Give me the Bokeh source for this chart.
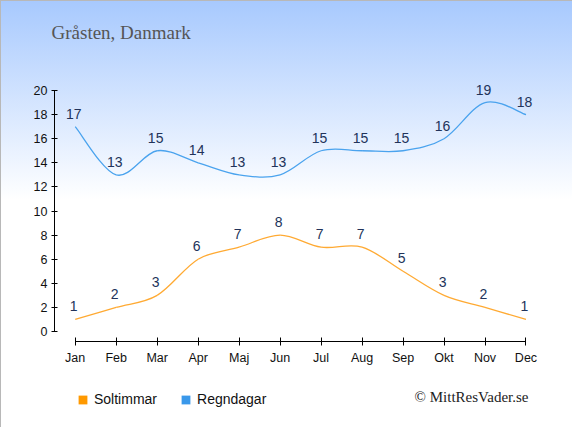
from bokeh.plotting import figure
from bokeh.models import Range1d, FixedTicker, Label, Legend, LegendItem, ColumnDataSource
from bokeh.core.properties import value
from bokeh.embed import file_html
from bokeh.resources import INLINE

months = ["Jan", "Feb", "Mar", "Apr", "Maj", "Jun", "Jul", "Aug", "Sep", "Okt", "Nov", "Dec"]
soltimmar = [1, 2, 3, 6, 7, 8, 7, 7, 5, 3, 2, 1]
regndagar = [17, 13, 15, 14, 13, 13, 15, 15, 15, 16, 19, 18]
y_ticks = list(range(0, 21, 2))
title_text = "Gråsten, Danmark"
credit_text = "© MittResVader.se"
series_names = ["Soltimmar", "Regndagar"]

ORANGE_LINE = "#ffaa33"
BLUE_LINE = "#4aa3ee"
ORANGE_BOX = "#ff9900"
BLUE_BOX = "#3a98ea"
LABEL_COLOR = "#22335a"

W, H = 572, 427
PX_X = 40.98      # pixels per month
PX_Y = 12.05      # pixels per unit
JAN_PX = 74.7     # canvas x of first month
ZERO_PX = 331.0   # canvas y (from top) of value 0
YAXIS_PX = 54.0   # canvas x of the y axis line
XAXIS_PX = 341.0  # canvas y of the x axis line


def bezier_source(vals):
    n = len(vals)
    xs = list(range(n))
    d = dict(x0=[], y0=[], x1=[], y1=[], cx0=[], cy0=[], cx1=[], cy1=[])
    for i in range(n - 1):
        pm = max(i - 1, 0)
        pp = min(i + 2, n - 1)
        d["x0"].append(xs[i]); d["y0"].append(vals[i])
        d["x1"].append(xs[i + 1]); d["y1"].append(vals[i + 1])
        d["cx0"].append(xs[i] + (xs[i + 1] - xs[pm]) / 6)
        d["cy0"].append(vals[i] + (vals[i + 1] - vals[pm]) / 6)
        d["cx1"].append(xs[i + 1] - (xs[pp] - xs[i]) / 6)
        d["cy1"].append(vals[i + 1] - (vals[pp] - vals[i]) / 6)
    return ColumnDataSource(d)


x0 = -JAN_PX / PX_X
y0 = -(H - ZERO_PX) / PX_Y
p = figure(width=W, height=H, output_backend="svg", toolbar_location=None,
           x_range=Range1d(x0, x0 + W / PX_X), y_range=Range1d(y0, y0 + H / PX_Y),
           min_border=0, min_border_left=0, min_border_right=0,
           min_border_top=0, min_border_bottom=0,
           border_fill_color=None, background_fill_color=None, outline_line_color=None,
           styles={"background": "linear-gradient(to bottom, #a7c9fe 0px, #ffffff 200px)",
                   "box-shadow": "inset 1px 1px 0 0 #b8b8b8"})
p.grid.visible = False

# axes (drawn at fixed places inside the full-canvas frame)
p.yaxis.fixed_location = (YAXIS_PX - JAN_PX) / PX_X
p.xaxis.fixed_location = -(XAXIS_PX - ZERO_PX) / PX_Y
p.yaxis.ticker = FixedTicker(ticks=y_ticks)
p.yaxis.bounds = (0, 20)
p.yaxis.major_tick_in = 3
p.yaxis.major_tick_out = 3
p.yaxis.minor_tick_line_color = None
p.yaxis.major_label_standoff = 4
p.xaxis.ticker = FixedTicker(ticks=list(range(len(months))))
p.xaxis.bounds = (0, len(months) - 1)
p.xaxis.major_label_overrides = {i: m for i, m in enumerate(months)}
p.xaxis.major_tick_in = 4
p.xaxis.major_tick_out = 4
p.xaxis.minor_tick_line_color = None
p.xaxis.major_label_standoff = 5
for ax in (p.xaxis, p.yaxis):
    ax.axis_line_color = "#000000"
    ax.major_tick_line_color = "#000000"
    ax.major_label_text_font = "Liberation Sans"
    ax.major_label_text_font_size = "12.5px"
    ax.major_label_text_color = "#111111"

# curves
src_s = bezier_source(soltimmar)
src_r = bezier_source(regndagar)
p.bezier("x0", "y0", "x1", "y1", "cx0", "cy0", "cx1", "cy1", source=src_s,
         line_color=ORANGE_LINE, line_width=1.3)
p.bezier("x0", "y0", "x1", "y1", "cx0", "cy0", "cx1", "cy1", source=src_r,
         line_color=BLUE_LINE, line_width=1.3)

# data labels
for vals in (soltimmar, regndagar):
    src = ColumnDataSource(dict(x=list(range(len(vals))), y=vals, t=[str(v) for v in vals]))
    p.text("x", "y", text="t", source=src, text_align="center", text_baseline="middle",
           x_offset=-1.5, y_offset=-13, text_font=value("Liberation Sans"),
           text_font_size="14px", text_color=LABEL_COLOR)

# legend (swatch renderers hold no visible point)
nan = float("nan")
r1 = p.rect(x=[nan], y=[nan], width=1, height=1, fill_color=ORANGE_BOX, line_color=None)
r2 = p.rect(x=[nan], y=[nan], width=1, height=1, fill_color=BLUE_BOX, line_color=None)
legend = Legend(items=[LegendItem(label=series_names[0], renderers=[r1], index=0),
                       LegendItem(label=series_names[1], renderers=[r2], index=0)],
                orientation="horizontal", location=(77, H - 407),
                glyph_width=11, glyph_height=11, label_standoff=6, spacing=23,
                padding=0, margin=0, border_line_color=None, background_fill_alpha=0,
                label_text_font="Liberation Sans", label_text_font_size="14px",
                label_text_color="#111111", label_height=16)
p.add_layout(legend, "center")

# title and credit
p.add_layout(Label(x=51, y=H - 31.5, x_units="screen", y_units="screen", text=title_text,
                   text_font="Liberation Serif", text_font_size="19px",
                   text_color="#555555", text_baseline="middle"))
p.add_layout(Label(x=528, y=H - 396, x_units="screen", y_units="screen", text=credit_text,
                   text_font="Liberation Serif", text_font_size="15px",
                   text_color="#222222", text_align="right", text_baseline="middle"))

open("out.html", "w").write(file_html(p, INLINE))
